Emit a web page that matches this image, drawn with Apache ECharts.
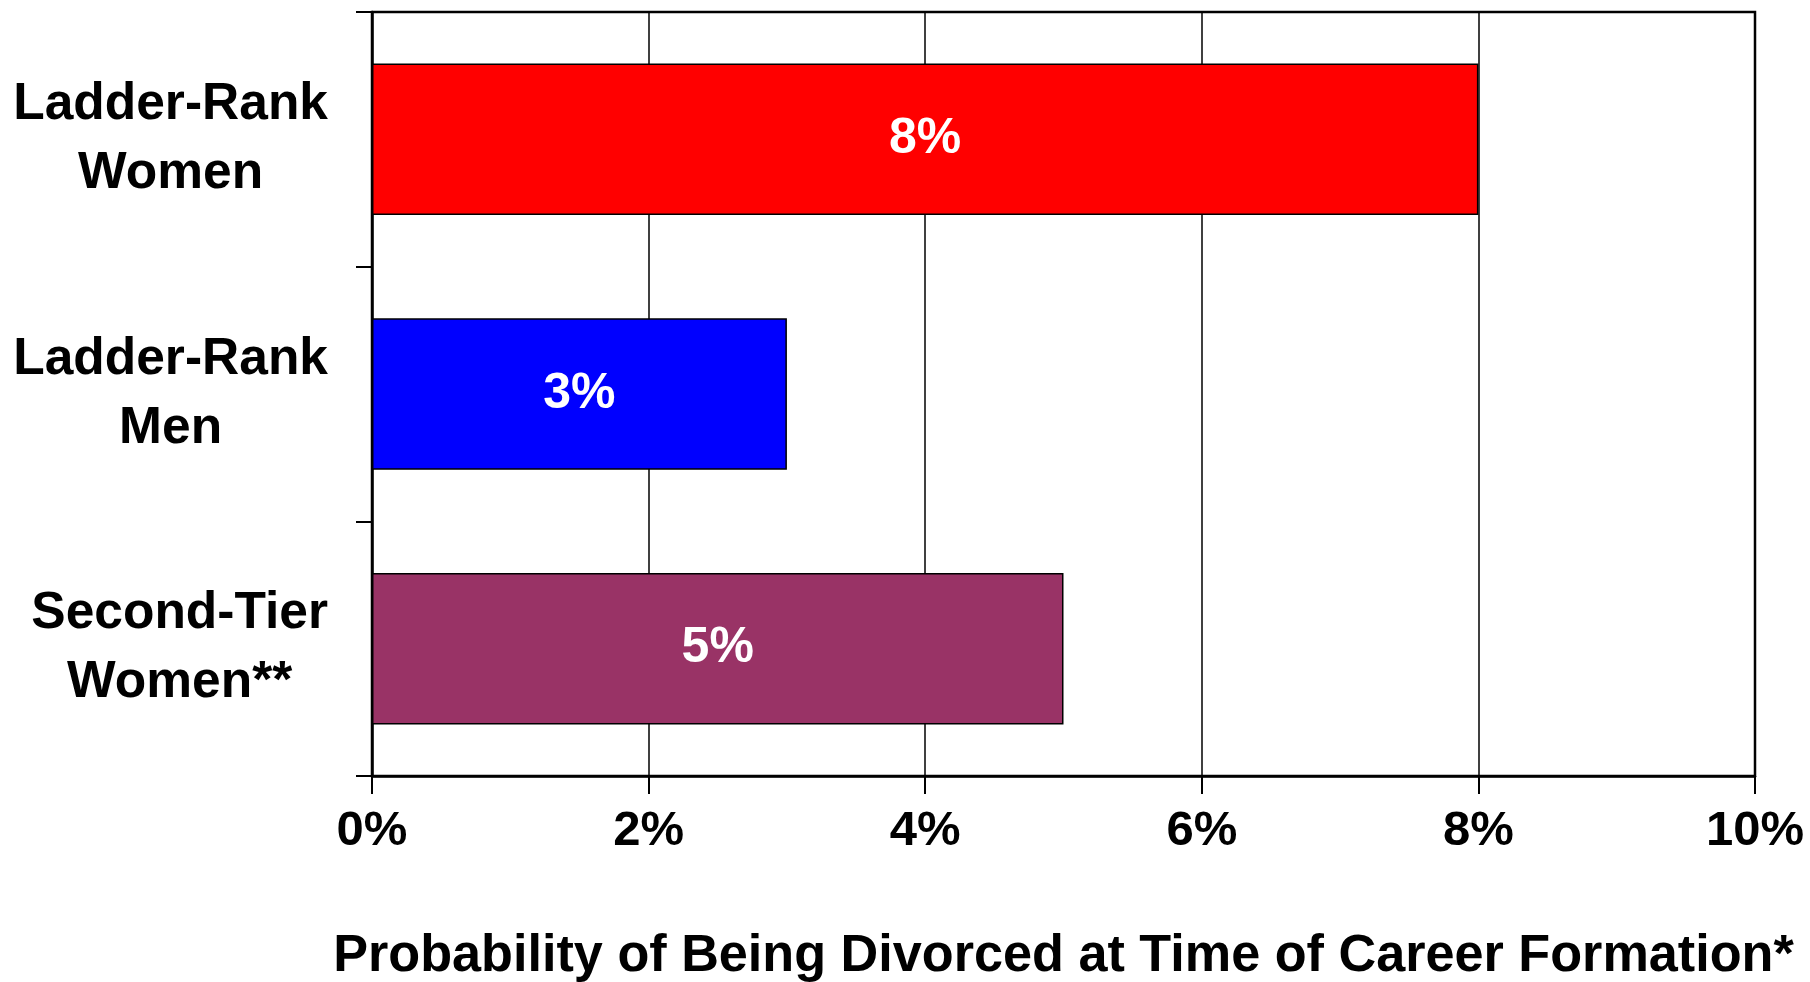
<!DOCTYPE html>
<html>
<head>
<meta charset="utf-8">
<script src="https://cdn.jsdelivr.net/npm/echarts@6/dist/echarts.min.js"></script>
<style>
html,body{margin:0;padding:0;background:#fff;}
#chart{width:1810px;height:982px;}
</style>
</head>
<body>
<div id="chart"></div>
<script>
const categories = ["Ladder-Rank\nWomen", "Ladder-Rank\nMen", "Second-Tier\nWomen**"];
const values = [8, 3, 5];
const barColors = ["#FF0000", "#0000FF", "#993366"];
const xTicks = [0, 2, 4, 6, 8, 10];
const xAxisTitle = "Probability of Being Divorced at Time of Career Formation*";

const FONT = "'Liberation Sans', Arial, sans-serif";
const chart = echarts.init(document.getElementById('chart'));

const option = {
  animation: false,
  backgroundColor: '#ffffff',
  grid: {
    left: 372, top: 12, width: 1383, height: 764,
    containLabel: false,
    outerBoundsMode: 'none',
    show: true, borderColor: '#000', borderWidth: 2.5, backgroundColor: 'transparent'
  },
  xAxis: {
    type: 'value',
    min: xTicks[0],
    max: xTicks[xTicks.length - 1],
    interval: xTicks[1] - xTicks[0],
    name: xAxisTitle,
    nameLocation: 'middle',
    nameGap: 155,
    nameTextStyle: { fontFamily: FONT, fontWeight: 'bold', fontSize: 52.2, color: '#000' },
    axisLine: { show: true, lineStyle: { color: '#000', width: 2.5 } },
    axisTick: { show: true, length: 18, lineStyle: { color: '#000', width: 2 } },
    axisLabel: {
      formatter: '{value}%', fontFamily: FONT, fontWeight: 'bold', fontSize: 49,
      color: '#000', margin: 31
    },
    splitLine: { show: true, lineStyle: { color: '#000', width: 1.5 } }
  },
  yAxis: {
    type: 'category',
    inverse: true,
    data: categories,
    axisLine: { show: true, lineStyle: { color: '#000', width: 2.5 } },
    axisTick: { show: true, length: 16, lineStyle: { color: '#000', width: 2 } },
    splitLine: { show: false },
    axisLabel: {
      align: 'right',
      margin: 44,
      formatter: function (v) {
        return v.split('\n').map(function (s) { return '{a|' + s + '}'; }).join('\n');
      },
      rich: {
        a: { fontFamily: FONT, fontWeight: 'bold', fontSize: 51.5, color: '#000', lineHeight: 69, align: 'center' }
      }
    }
  },
  series: [{
    type: 'bar',
    barCategoryGap: '40.5%',
    data: values.map(function (v, i) {
      return { value: v, itemStyle: { color: barColors[i] } };
    }),
    itemStyle: { borderColor: '#000', borderWidth: 1.5 },
    label: {
      show: true, position: 'inside', formatter: '{c}%',
      fontFamily: FONT, fontWeight: 'bold', fontSize: 50, color: '#fff'
    }
  }]
};
chart.setOption(option);
</script>
</body>
</html>
